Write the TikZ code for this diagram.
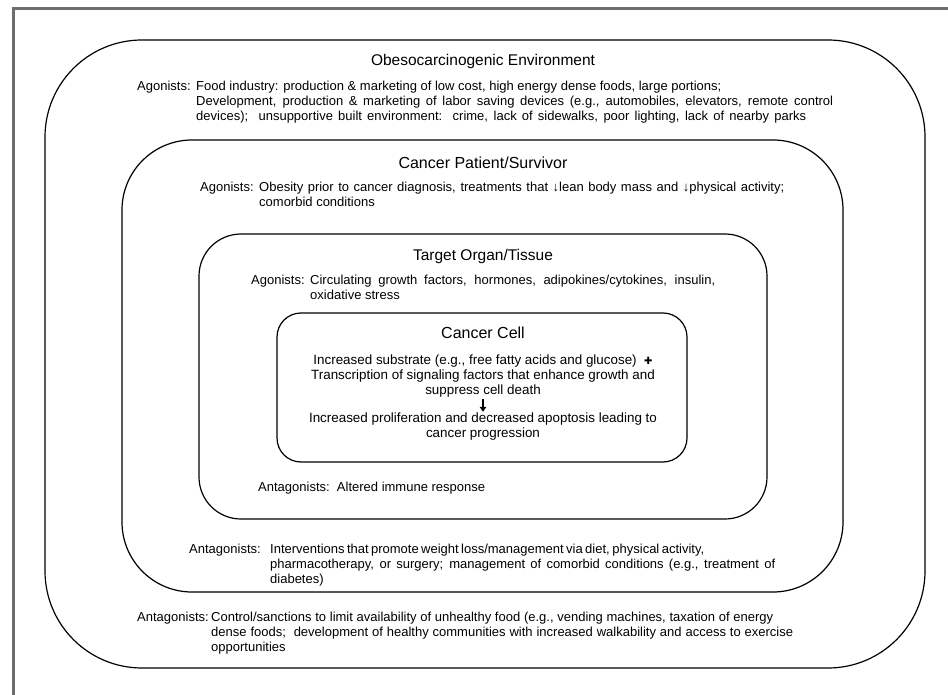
\documentclass[tikz,border=0pt]{standalone}
\usepackage{fontspec}
\setmainfont{Liberation Sans}
\newfontfamily\symfont{DejaVu Sans}
\usetikzlibrary{arrows.meta}
\newcommand\fitline[2]{\makebox[#1pt][s]{#2}}
\begin{document}
\begin{tikzpicture}[x=1pt,y=-1pt,
  ring/.style={draw=black, line width=1.2pt, inner sep=0pt, rectangle},
  ttl/.style={inner sep=0pt, anchor=base, font=\fontsize{15.5}{18}\selectfont},
  body/.style={inner sep=0pt, anchor=base west, font=\fontsize{13}{15}\selectfont},
  celltext/.style={inner sep=0pt, anchor=base, font=\fontsize{13.4}{15}\selectfont},
  framebar/.style={draw={rgb,255:red,110;green,110;blue,110}, line width=3pt},
  bigarrow/.style={line width=1.8pt, -{Triangle[width=6.5pt,length=5pt]}}]
\useasboundingbox (0,0) rectangle (948,695);
\fill[white] (0,0) rectangle (948,695);
\draw[framebar] (13,695) -- (13,9) -- (948,9);

% nested rounded boxes
\node[ring, rounded corners=97pt, minimum width=880pt, minimum height=628pt] (env) at (485,354) {};
\node[ring, rounded corners=70pt, minimum width=721pt, minimum height=452pt] (patient) at (482.5,366) {};
\node[ring, rounded corners=42pt, minimum width=568pt, minimum height=285pt] (organ) at (483,376.5) {};
\node[ring, rounded corners=24pt, minimum width=410pt, minimum height=149pt] (cell) at (482,387.5) {};

% Environment
\node[ttl] (t1) at (483,65.5) {Obesocarcinogenic Environment};
\node[body] (ag1) at (137,90.5) {\begin{tabular}[t]{@{}p{59pt}@{}l@{}}
Agonists: & Food industry: production \& marketing of low cost, high energy dense foods, large portions;\\
 & \fitline{637}{Development, production \& marketing of labor saving devices (e.g., automobiles, elevators, remote control}\\
 & \fitline{610}{devices);\ \ unsupportive built environment:\ \ crime, lack of sidewalks, poor lighting, lack of nearby parks}
\end{tabular}};

% Patient
\node[ttl, font=\fontsize{16}{18}\selectfont] (t2) at (483,168.5) {Cancer Patient/Survivor};
\node[body] (ag2) at (200,191.5) {\begin{tabular}[t]{@{}p{59pt}@{}l@{}}
Agonists: & \fitline{525}{Obesity prior to cancer diagnosis, treatments that ↓lean body mass and ↓physical activity;}\\
 & comorbid conditions
\end{tabular}};

% Organ
\node[ttl] (t3) at (483,260.5) {Target Organ/Tissue};
\node[body] (ag3) at (251,284.5) {\begin{tabular}[t]{@{}p{59pt}@{}l@{}}
Agonists: & \fitline{405}{Circulating growth factors, hormones, adipokines/cytokines, insulin,}\\
 & oxidative stress
\end{tabular}};

% Cell
\node[ttl, font=\fontsize{16}{18}\selectfont] (t4) at (483,338.5) {Cancer Cell};
\node[celltext] (cellA) at (483,364.5) {\begin{tabular}[t]{@{}c@{}}
Increased substrate (e.g., free fatty acids and glucose)\ \ {\symfont\fontsize{10}{10}\selectfont ✚}\\
Transcription of signaling factors that enhance growth and\\
suppress cell death
\end{tabular}};
\node[celltext] (cellB) at (483,422.5) {\begin{tabular}[t]{@{}c@{}}
Increased proliferation and decreased apoptosis leading to\\
cancer progression
\end{tabular}};
\draw[bigarrow] (cellA.south) -- (cellB.north);

% Antagonists
\node[body] (an3) at (258,491.5) {Antagonists:\ \ Altered immune response};
\node[body] (an2) at (189,553.5) {\begin{tabular}[t]{@{}p{81pt}@{}l@{}}
Antagonists: & \fitline{433}{Interventions that promote weight loss/management via diet, physical activity,}\\
 & \fitline{505}{pharmacotherapy, or surgery; management of comorbid conditions (e.g., treatment of}\\
 & diabetes)
\end{tabular}};
\node[body] (an1) at (137,621.5) {\begin{tabular}[t]{@{}p{74pt}@{}l@{}}
Antagonists: & \fitline{562}{Control/sanctions to limit availability of unhealthy food (e.g., vending machines, taxation of energy}\\
 & \fitline{582}{dense foods;\ \ development of healthy communities with increased walkability and access to exercise}\\
 & opportunities
\end{tabular}};
\end{tikzpicture}
\end{document}
